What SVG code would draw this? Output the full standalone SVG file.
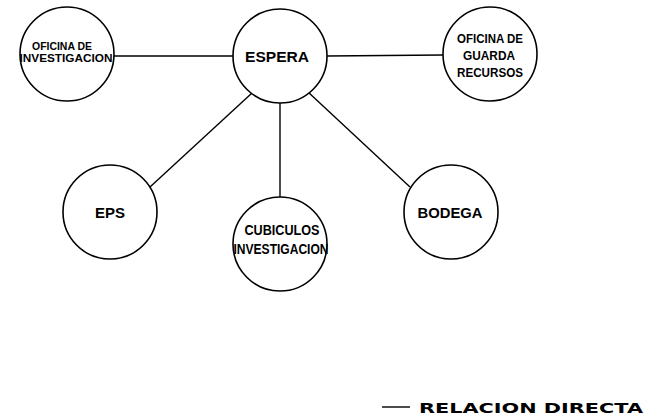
<svg xmlns="http://www.w3.org/2000/svg" width="654" height="417" viewBox="0 0 654 417">
<style>
.node{fill:#fff;stroke:#000;stroke-width:1.6}
.conn{stroke:#000;stroke-width:1.4;fill:none}
.lbl{font-family:"Liberation Sans",Arial,sans-serif;font-weight:bold;fill:#000;text-anchor:middle}
.leg{font-family:"DejaVu Sans","Liberation Sans",sans-serif;font-weight:bold;fill:#000}
</style>
<rect width="654" height="417" fill="#fff"/>
<g id="connectors">
<line class="conn" x1="114" y1="56" x2="234" y2="56"/>
<line class="conn" x1="327" y1="56" x2="443" y2="55"/>
<line class="conn" x1="252" y1="93" x2="150" y2="187"/>
<line class="conn" x1="280" y1="103" x2="280" y2="197"/>
<line class="conn" x1="308" y1="92" x2="410" y2="187"/>
</g>
<g id="oficina-investigacion">
<circle class="node" cx="67" cy="54" r="47"/>
<text class="lbl" x="62" y="50" font-size="10" textLength="60" lengthAdjust="spacingAndGlyphs">OFICINA DE</text>
<text class="lbl" x="66" y="62" font-size="10" textLength="93" lengthAdjust="spacingAndGlyphs">INVESTIGACION</text>
</g>
<g id="espera">
<circle class="node" cx="280" cy="56" r="47"/>
<text class="lbl" x="277" y="62" font-size="14" textLength="64" lengthAdjust="spacingAndGlyphs">ESPERA</text>
</g>
<g id="oficina-guarda">
<circle class="node" cx="490" cy="54" r="47"/>
<text class="lbl" x="490" y="43" font-size="13" textLength="66" lengthAdjust="spacingAndGlyphs">OFICINA DE</text>
<text class="lbl" x="489" y="60" font-size="13" textLength="52" lengthAdjust="spacingAndGlyphs">GUARDA</text>
<text class="lbl" x="490" y="77" font-size="13" textLength="66" lengthAdjust="spacingAndGlyphs">RECURSOS</text>
</g>
<g id="eps">
<circle class="node" cx="110" cy="212" r="47"/>
<text class="lbl" x="110" y="218" font-size="14" textLength="30" lengthAdjust="spacingAndGlyphs">EPS</text>
</g>
<g id="cubiculo">
<circle class="node" cx="280" cy="244" r="47"/>
<text class="lbl" x="282" y="235" font-size="14" textLength="75" lengthAdjust="spacingAndGlyphs">CUBICULOS</text>
<text class="lbl" x="281" y="254" font-size="14" textLength="95" lengthAdjust="spacingAndGlyphs">INVESTIGACION</text>
</g>
<g id="bodega">
<circle class="node" cx="451" cy="212" r="47"/>
<text class="lbl" x="450" y="218" font-size="14" textLength="65" lengthAdjust="spacingAndGlyphs">BODEGA</text>
</g>
<g id="legend">
<line class="conn" x1="382" y1="407" x2="410" y2="407"/>
<text class="leg" x="419" y="413" font-size="14" textLength="224" lengthAdjust="spacingAndGlyphs">RELACION DIRECTA</text>
</g>
</svg>
